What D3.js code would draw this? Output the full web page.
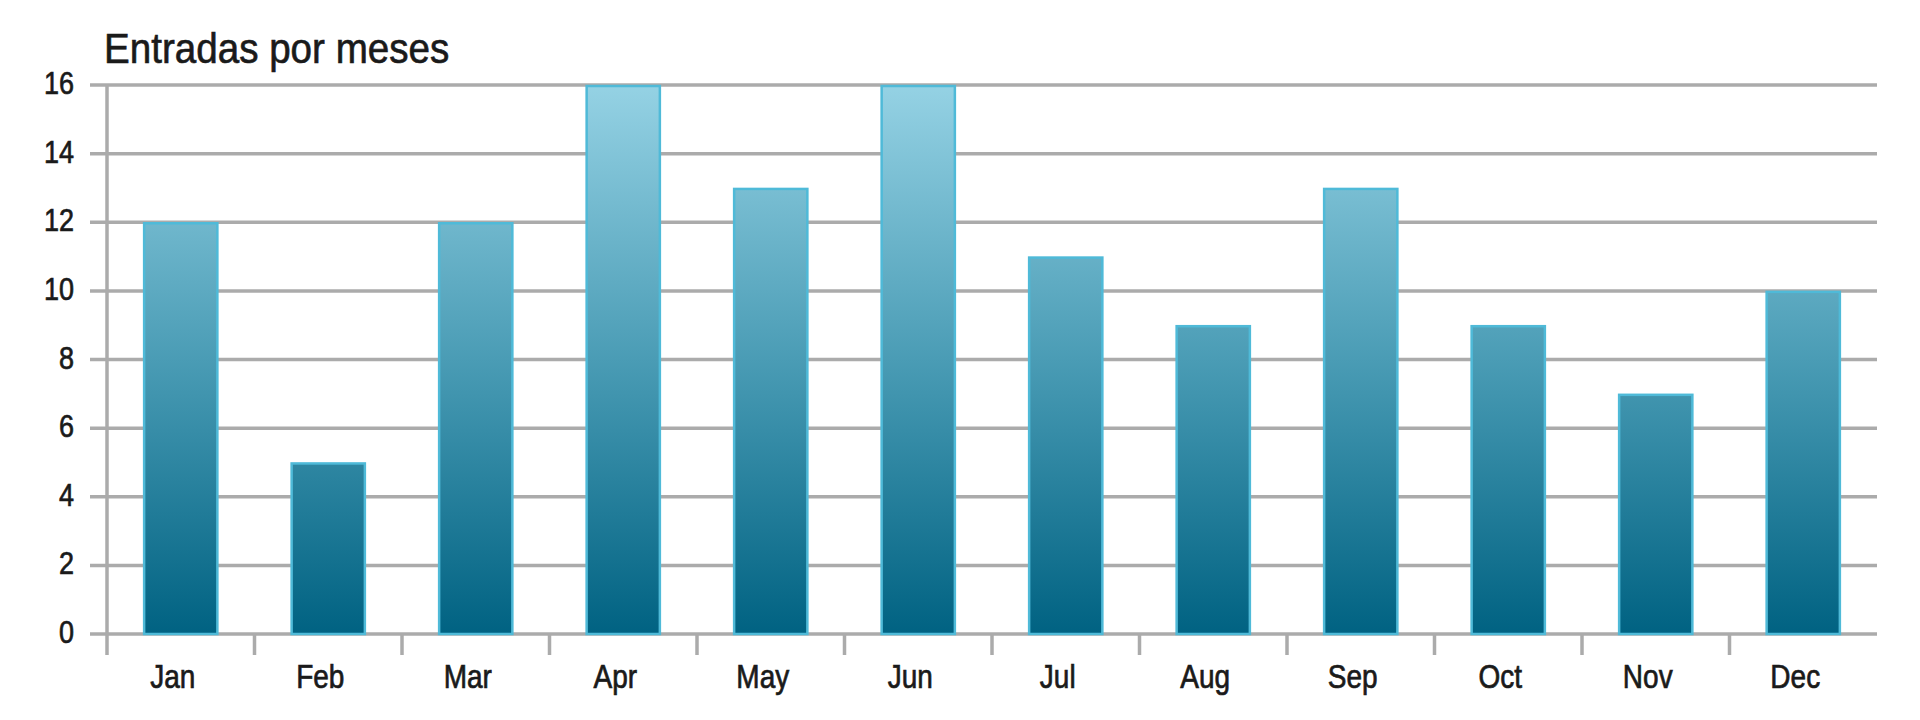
<!DOCTYPE html>
<html><head><meta charset="utf-8">
<script src="https://cdn.jsdelivr.net/npm/d3@7"></script>
<style>html,body{margin:0;padding:0;background:#fff;}svg{display:block;}</style>
</head><body>
<svg id="chart" width="1920" height="720"></svg>
<script>
const title = "Entradas por meses";
const months = ["Jan","Feb","Mar","Apr","May","Jun","Jul","Aug","Sep","Oct","Nov","Dec"];
const values = [12,5,12,16,13,16,11,9,13,9,7,10];
const yTicks = [0,2,4,6,8,10,12,14,16];

const svg = d3.select("#chart");
const m = {left:107, right:43, top:85, bottom:86};
const W = 1920, H = 720;
const x = d3.scaleBand().domain(months).range([m.left, W - m.right]).paddingInner(0.49).paddingOuter(0.245);
const xTickScale = d3.scaleLinear().domain([0, months.length]).range([m.left, W - m.right]);
const y = d3.scaleLinear().domain([0,16]).range([H - m.bottom, m.top]);

const defs = svg.append("defs");
const grad = defs.append("linearGradient").attr("id","barGrad")
  .attr("gradientUnits","userSpaceOnUse")
  .attr("x1",0).attr("x2",0).attr("y1",y(16)).attr("y2",y(0));
grad.append("stop").attr("offset","0%").attr("stop-color","#95d2e4");
grad.append("stop").attr("offset","50%").attr("stop-color","#4a9cb5");
grad.append("stop").attr("offset","100%").attr("stop-color","#006282");

// gridlines
svg.append("g").selectAll("line").data(yTicks).join("line")
  .attr("x1", m.left - 17).attr("x2", W - m.right)
  .attr("y1", d => y(d)).attr("y2", d => y(d))
  .attr("stroke","#ababab").attr("stroke-width",3.5);

// y axis line
svg.append("line").attr("x1",m.left).attr("x2",m.left)
  .attr("y1",y(16)).attr("y2",y(0)+21)
  .attr("stroke","#ababab").attr("stroke-width",3.5);

// x category ticks
svg.append("g").selectAll("line").data(d3.range(1, months.length)).join("line")
  .attr("x1", d => xTickScale(d)).attr("x2", d => xTickScale(d))
  .attr("y1", y(0)).attr("y2", y(0)+21)
  .attr("stroke","#ababab").attr("stroke-width",3.5);

// bars
svg.append("g").selectAll("rect").data(values).join("rect")
  .attr("x", (d,i) => x(months[i]) + 1)
  .attr("width", x.bandwidth() - 2)
  .attr("y", d => y(d) + 1)
  .attr("height", d => y(0) - y(d) - 1)
  .attr("fill","url(#barGrad)")
  .attr("stroke","#4fbad8").attr("stroke-width",2.5);

const textStyle = sel => sel
  .attr("font-family","Liberation Sans, Arial, sans-serif")
  .attr("fill","#1a1a1a").attr("stroke","#1a1a1a").attr("stroke-width",0.6);

// y labels
svg.append("g").selectAll("text").data(yTicks).join("text")
  .attr("transform", d => `translate(74,${y(d)+9}) scale(1,1.16)`)
  .attr("text-anchor","end")
  .attr("font-size",27)
  .call(textStyle)
  .text(d => d);

// x labels
svg.append("g").selectAll("text").data(months).join("text")
  .attr("transform", d => `translate(${x(d) + x.bandwidth()/2 - 8},688) scale(1,1.18)`)
  .attr("text-anchor","middle")
  .attr("font-size",28)
  .call(textStyle)
  .text(d => d);

// title
svg.append("text")
  .attr("transform","translate(104,63) scale(1,1.09)")
  .attr("font-size",38.6)
  .call(textStyle)
  .text(title);
</script>
</body></html>
